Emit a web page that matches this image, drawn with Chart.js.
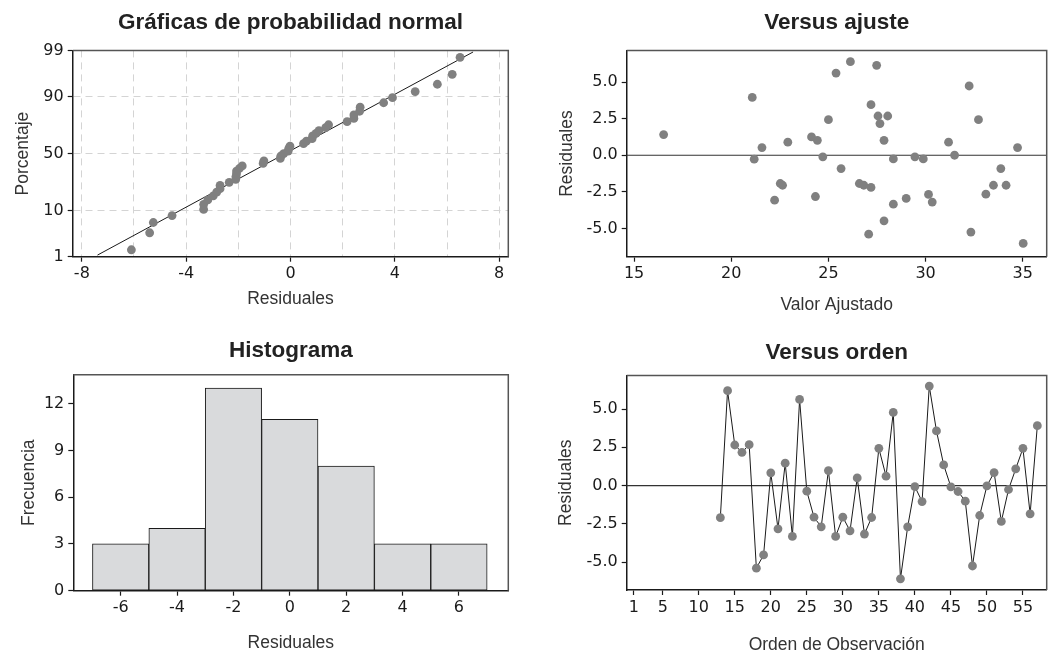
<!DOCTYPE html>
<html>
<head>
<meta charset="utf-8">
<script src="https://cdn.jsdelivr.net/npm/chart.js@4/dist/chart.umd.min.js"></script>
<style>
  body { margin: 0; background: #fff; overflow: hidden; }
  .panel { position: absolute; }
</style>
</head>
<body>
<div class="panel" style="left:0;top:0;width:528px;height:320px"><canvas id="normal-plot"></canvas></div>
<div class="panel" style="left:528px;top:0;width:528px;height:320px"><canvas id="fit-plot"></canvas></div>
<div class="panel" style="left:0;top:330px;width:528px;height:326px"><canvas id="hist-plot"></canvas></div>
<div class="panel" style="left:528px;top:330px;width:528px;height:326px"><canvas id="order-plot"></canvas></div>
<script>
// Residuales en orden de observación
const ordenObs = [13, 14, 15, 16, 17, 18, 19, 20, 21, 22, 23, 24, 25, 26, 27, 28, 29, 30, 31, 32, 33, 34, 35,
  36, 37, 38, 39, 40, 41, 42, 43, 44, 45, 46, 47, 48, 49, 50, 51, 52, 53, 54, 55, 56, 57];
const residuales = [-2.1, 6.2, 2.65, 2.17, 2.67, -5.4, -4.54, 0.83, -2.83, 1.46, -3.33, 5.63, -0.37, -2.07,
  -2.7, 0.98, -3.33, -2.07, -2.96, 0.5, -3.17, -2.09, 2.43, 0.61, 4.78, -6.1, -2.7, -0.07, -1.05, 6.5, 3.57,
  1.35, -0.09, -0.39, -1.02, -5.26, -1.96, -0.02, 0.85, -2.35, -0.26, 1.09, 2.43, -1.85, 3.91];

// Gráfica de probabilidad normal
const residualesOrdenados = [-6.1, -5.4, -5.26, -4.54, -3.33, -3.33, -3.17, -2.96, -2.83, -2.7, -2.7, -2.35,
  -2.1, -2.09, -2.07, -2.07, -1.96, -1.85, -1.05, -1.02, -0.39, -0.37, -0.26, -0.09, -0.07, -0.02, 0.5, 0.61,
  0.83, 0.85, 0.98, 1.09, 1.35, 1.46, 2.17, 2.43, 2.43, 2.65, 2.67, 3.57, 3.91, 4.78, 5.63, 6.2, 6.5];
const porcentajes = [1.5, 3.7, 6.0, 8.1, 10.4, 12.6, 14.8, 17.0, 19.2, 21.4, 23.6, 25.8, 28.0, 30.2, 32.4,
  34.6, 36.8, 39.0, 41.2, 43.4, 45.6, 47.8, 50.0, 52.2, 54.4, 56.6, 58.8, 61.0, 63.2, 65.4, 67.6, 69.8, 72.0,
  74.2, 76.4, 78.6, 80.8, 83.0, 85.2, 87.4, 89.6, 91.9, 94.1, 96.3, 98.5];
const lineaX = [-7.4, 7.0];
const lineaPorcentaje = [1.1, 98.9];

// Versus ajuste
const valorAjustado = [16.52, 21.08, 21.18, 21.58, 22.23, 22.52, 22.64, 22.91, 24.13, 24.43, 24.33, 24.71,
  25.0, 25.39, 25.65, 26.13, 26.59, 26.82, 27.19, 27.19, 27.07, 27.48, 27.55, 27.65, 27.86, 27.86, 28.05,
  28.34, 28.34, 29.0, 29.45, 29.88, 30.15, 30.34, 31.18, 31.49, 32.24, 32.33, 32.72, 33.1, 33.49, 33.87,
  34.14, 34.73, 35.02];
const residualAjuste = [1.41, 3.95, -0.27, 0.52, -3.07, -1.93, -2.05, 0.89, 1.25, 1.02, -2.82, -0.11, 2.43,
  5.61, -0.91, 6.39, -1.93, -2.05, -2.2, 3.45, -5.39, 6.14, 2.68, 2.16, 1.02, -4.48, 2.68, -0.25, -3.34,
  -2.95, -0.11, -0.25, -2.68, -3.2, 0.89, 0.0, 4.73, -5.25, 2.43, -2.66, -2.05, -0.91, -2.05, 0.52, -6.02];

// Histograma
const histCentros = [-6, -4, -2, 0, 2, 4, 6];
const histFrecuencias = [3, 4, 13, 11, 8, 3, 3];

// Etiquetas de los ejes
const normalTicksX = [-8, -6, -4, -2, 0, 2, 4, 6, 8];
const normalEtiquetasX = [-8, -4, 0, 4, 8];
const probTicks = [1, 10, 50, 90, 99];
const ajusteTicksX = [15, 20, 25, 30, 35];
const residualTicks = [-5, -2.5, 0, 2.5, 5];
const histTicksX = [-6, -4, -2, 0, 2, 4, 6];
const histTicksY = [0, 3, 6, 9, 12];
const ordenTicksX = [1, 5, 10, 15, 20, 25, 30, 35, 40, 45, 50, 55];

// Inversa de la normal (escala de probabilidad)
function probit(p) {
  const a = [-39.69683028665376, 220.9460984245205, -275.9285104469687, 138.357751867269, -30.66479806614716, 2.506628277459239];
  const b = [-54.47609879822406, 161.5858368580409, -155.6989798598866, 66.80131188771972, -13.28068155288572];
  const c = [-0.007784894002430293, -0.3223964580411365, -2.400758277161838, -2.549732539343734, 4.374664141464968, 2.938163982698783];
  const d = [0.007784695709041462, 0.3224671290700398, 2.445134137142996, 3.754408661907416];
  const tail = (q) => (((((c[0] * q + c[1]) * q + c[2]) * q + c[3]) * q + c[4]) * q + c[5]) /
    ((((d[0] * q + d[1]) * q + d[2]) * q + d[3]) * q + 1);
  if (p < 0.02425) return tail(Math.sqrt(-2 * Math.log(p)));
  if (p > 1 - 0.02425) return -tail(Math.sqrt(-2 * Math.log(1 - p)));
  const q = p - 0.5;
  const r = q * q;
  return (((((a[0] * r + a[1]) * r + a[2]) * r + a[3]) * r + a[4]) * r + a[5]) * q /
    (((((b[0] * r + b[1]) * r + b[2]) * r + b[3]) * r + b[4]) * r + 1);
}
const z = (pct) => probit(pct / 100);

// Estilos comunes
const fuenteTicks = { family: "'DejaVu Sans', sans-serif", size: 16 };
const fuenteEje = { family: "'Liberation Sans', Arial, sans-serif", size: 17.5 };
const fuenteTitulo = { family: "'Liberation Sans', Arial, sans-serif", size: 22.5, weight: "bold" };
const gris = "#808080";
const oscuro = "#1a1a1a";

Chart.defaults.animation = false;
Chart.defaults.color = oscuro;

// Marco superior y derecho del área de gráfica
const marco = {
  id: "marco",
  afterDraw(chart) {
    const { ctx, chartArea: a } = chart;
    ctx.save();
    ctx.strokeStyle = "#555";
    ctx.lineWidth = 1.5;
    ctx.beginPath();
    ctx.moveTo(a.left, a.top);
    ctx.lineTo(a.right, a.top);
    ctx.lineTo(a.right, a.bottom);
    ctx.stroke();
    ctx.restore();
  },
};

// Línea de referencia en residual = 0
const lineaCero = {
  id: "lineaCero",
  beforeDatasetsDraw(chart) {
    const { ctx, chartArea: a } = chart;
    const y = chart.scales.y.getPixelForValue(0);
    ctx.save();
    ctx.strokeStyle = "#333";
    ctx.lineWidth = 1.2;
    ctx.beginPath();
    ctx.moveTo(a.left, y);
    ctx.lineTo(a.right, y);
    ctx.stroke();
    ctx.restore();
  },
};

function titulo(text, top, bottom) {
  return { display: true, fullSize: false, text, font: fuenteTitulo, color: "#222", padding: { top, bottom } };
}

function ejeX(min, max, ticks, text, height, titlePad, labelFn) {
  return {
    type: "linear",
    min,
    max,
    offset: false,
    afterBuildTicks: (s) => { s.ticks = ticks.map((v) => ({ value: v })); },
    afterFit: (s) => { s.height = height; },
    ticks: {
      font: fuenteTicks,
      color: oscuro,
      padding: 3,
      maxRotation: 0,
      autoSkip: false,
      callback: labelFn || ((v) => v),
    },
    grid: { drawOnChartArea: false, offset: false, tickLength: 5, tickColor: oscuro, tickWidth: 1.2 },
    border: { color: oscuro, width: 1.5 },
    title: { display: true, text, font: fuenteEje, color: "#333", padding: { top: 0, bottom: titlePad } },
  };
}

function ejeY(min, max, ticks, text, width, titlePad, labelFn) {
  return {
    type: "linear",
    min,
    max,
    afterBuildTicks: (s) => { s.ticks = ticks.map((v) => ({ value: v })); },
    afterFit: (s) => { s.width = width; },
    ticks: { font: fuenteTicks, color: oscuro, padding: 4, autoSkip: false, callback: labelFn || ((v) => v) },
    grid: { drawOnChartArea: false, tickLength: 5, tickColor: oscuro, tickWidth: 1.2 },
    border: { color: oscuro, width: 1.5 },
    title: { display: true, text, font: fuenteEje, color: "#333", padding: { top: titlePad, bottom: 0 } },
  };
}

// Gráfica de probabilidad normal
const normalX = ejeX(-8.35, 8.35, normalTicksX, "Residuales", 63.3, 10.5,
  (v) => (normalEtiquetasX.includes(v) ? v : ""));
normalX.grid.drawOnChartArea = true;
normalX.grid.color = "#d4d4d4";
normalX.grid.tickColor = (c) => (normalEtiquetasX.includes(c.tick.value) ? oscuro : "rgba(0,0,0,0)");
normalX.border.dash = [7, 5];

const normalY = ejeY(z(1), z(99), probTicks.map(z), "Porcentaje", 72.7, 12.5,
  (v, i) => probTicks[i]);
normalY.grid.drawOnChartArea = true;
normalY.grid.color = "#d4d4d4";
normalY.border.dash = [7, 5];

new Chart(document.getElementById("normal-plot"), {
  type: "scatter",
  data: {
    datasets: [
      {
        data: residualesOrdenados.map((r, i) => ({ x: r, y: z(porcentajes[i]) })),
        backgroundColor: gris,
        borderColor: gris,
        pointRadius: 4.4,
        pointBorderWidth: 0,
        order: 0,
      },
      {
        data: lineaX.map((x, i) => ({ x, y: z(lineaPorcentaje[i]) })),
        showLine: true,
        borderColor: oscuro,
        borderWidth: 1,
        pointRadius: 0,
        order: 1,
      },
    ],
  },
  options: {
    maintainAspectRatio: false,
    layout: { padding: { right: 19.7 } },
    plugins: {
      legend: { display: false },
      tooltip: { enabled: false },
      title: titulo("Gráficas de probabilidad normal", 9, 14.4),
    },
    scales: { x: normalX, y: normalY },
  },
  plugins: [marco],
});

// Versus ajuste
new Chart(document.getElementById("fit-plot"), {
  type: "scatter",
  data: {
    datasets: [
      {
        data: valorAjustado.map((x, i) => ({ x, y: residualAjuste[i] })),
        backgroundColor: gris,
        borderColor: gris,
        pointRadius: 4.4,
        pointBorderWidth: 0,
      },
    ],
  },
  options: {
    maintainAspectRatio: false,
    layout: { padding: { right: 9.3 } },
    plugins: {
      legend: { display: false },
      tooltip: { enabled: false },
      title: titulo("Versus ajuste", 9, 14.4),
    },
    scales: {
      x: ejeX(14.62, 36.23, ajusteTicksX, "Valor Ajustado", 63.3, 4.5),
      y: ejeY(-6.93, 7.16, residualTicks, "Residuales", 98.7, 28.5, (v) => v.toFixed(1)),
    },
  },
  plugins: [lineaCero, marco],
});

// Histograma
new Chart(document.getElementById("hist-plot"), {
  type: "bar",
  data: {
    datasets: [
      {
        data: histCentros.map((x, i) => ({ x, y: histFrecuencias[i] })),
        backgroundColor: "#d9dadc",
        borderColor: oscuro,
        borderWidth: 1,
        borderSkipped: false,
        barPercentage: 1,
        categoryPercentage: 1,
      },
    ],
  },
  options: {
    maintainAspectRatio: false,
    layout: { padding: { right: 19.7 } },
    plugins: {
      legend: { display: false },
      tooltip: { enabled: false },
      title: titulo("Histograma", 7.5, 10.2),
    },
    scales: {
      x: ejeX(-7.68, 7.75, histTicksX, "Residuales", 65.3, 2.5),
      y: ejeY(0, 13.86, histTicksY, "Frecuencia", 73.3, 18.5),
    },
  },
  plugins: [marco],
});

// Versus orden
new Chart(document.getElementById("order-plot"), {
  type: "scatter",
  data: {
    datasets: [
      {
        data: ordenObs.map((x, i) => ({ x, y: residuales[i] })),
        showLine: true,
        borderColor: oscuro,
        borderWidth: 1,
        backgroundColor: gris,
        pointBackgroundColor: gris,
        pointBorderColor: gris,
        pointRadius: 4.4,
        pointBorderWidth: 0,
      },
    ],
  },
  options: {
    maintainAspectRatio: false,
    layout: { padding: { right: 9.3 } },
    plugins: {
      legend: { display: false },
      tooltip: { enabled: false },
      title: titulo("Versus orden", 9.5, 8.9),
    },
    scales: {
      x: ejeX(0, 58.3, ordenTicksX, "Orden de Observación", 66, 0.5),
      y: ejeY(-6.83, 7.2, residualTicks, "Residuales", 98.7, 27.5, (v) => v.toFixed(1)),
    },
  },
  plugins: [lineaCero, marco],
});
</script>
</body>
</html>
